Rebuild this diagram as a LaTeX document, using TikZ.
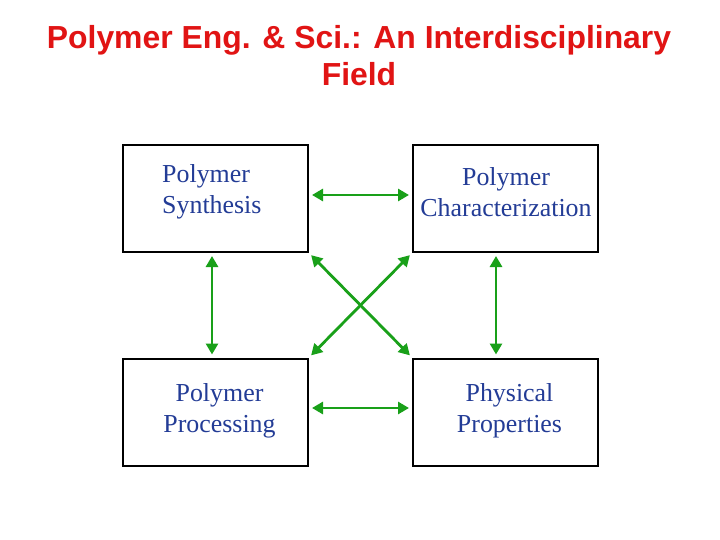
\documentclass[tikz,border=0pt]{standalone}
\usepackage{fontspec}
\setmainfont{Liberation Serif}
\newfontfamily\titlefont{Liberation Sans}
\usetikzlibrary{arrows.meta}
\definecolor{titlered}{RGB}{225,20,20}
\definecolor{txtblue}{RGB}{35,60,150}
\definecolor{arrgreen}{RGB}{25,160,25}
\begin{document}
\begin{tikzpicture}[x=1bp,y=-1bp,
 box/.style={draw=black,line width=2bp,minimum width=185bp,minimum height=107bp,inner sep=0},
 lbl/.style={text=txtblue,font=\fontsize{26}{31}\selectfont,align=center,inner sep=0},
 ttl/.style={font=\titlefont\bfseries\fontsize{32}{37}\selectfont,text=titlered,inner sep=0,anchor=base},
 link/.style={draw=arrgreen,line width=2.8bp,{Triangle[length=11bp,width=12bp]}-{Triangle[length=11bp,width=12bp]},shorten >=3bp,shorten <=3bp}]
\useasboundingbox[fill=white] (0,0) rectangle (720,540);
\node[ttl] (title1) at (359,49) {Polymer Eng. \& Sci.: An Interdisciplinary};
\node[ttl] (title2) at (359,86) {Field};

\node[box] (syn) at (215.5,198.5) {};
\node[box] (cha) at (505.5,198.5) {};
\node[box] (pro) at (215.5,412) {};
\node[box] (phy) at (505.5,412) {};

\node[lbl,align=left,anchor=west] (synt) at (162,192) {Polymer\\Synthesis};
\node[lbl] (chat) at (506,192) {Polymer\\Characterization};
\node[lbl] (prot) at (219.5,411) {Polymer\\Processing};
\node[lbl] (phyt) at (509.5,411) {Physical\\Properties};

\draw[link] ([yshift=3.5bp]syn.east) -- ([yshift=3.5bp]cha.west);
\draw[link] ([yshift=4bp]pro.east) -- ([yshift=4bp]phy.west);
\draw[link] ([xshift=-3.5bp]syn.south) -- ([xshift=-3.5bp]pro.north);
\draw[link] ([xshift=-9.5bp]cha.south) -- ([xshift=-9.5bp]phy.north);
\draw[link] (syn.south east) -- (phy.north west);
\draw[link] (cha.south west) -- (pro.north east);
\end{tikzpicture}
\end{document}
